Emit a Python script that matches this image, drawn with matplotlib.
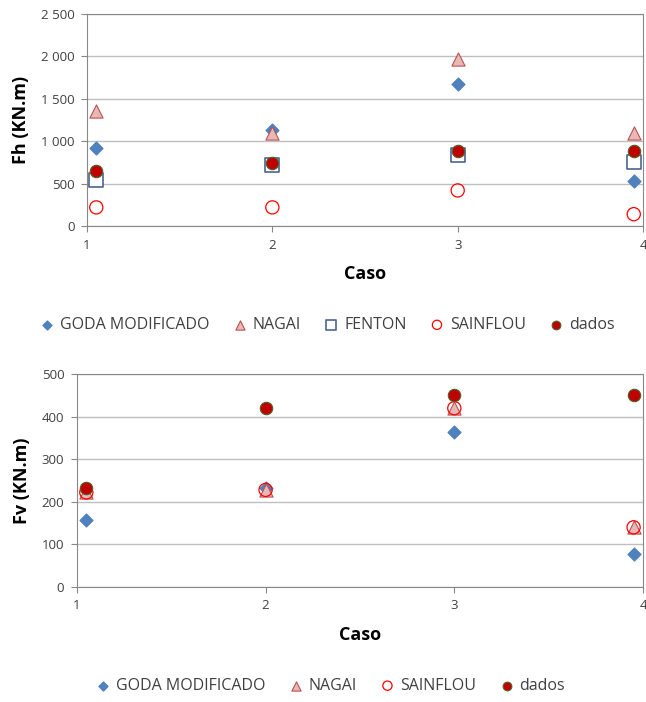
import matplotlib
matplotlib.use("Agg")
import matplotlib.pyplot as plt
from matplotlib.ticker import FuncFormatter

plt.rcParams['font.family'] = ['Open Sans', 'DejaVu Sans']

# posições dos casos no eixo x
caso = [1.05, 2, 3, 3.95]

# Fh (KN.m)
fh_goda = [920, 1130, 1680, 530]
fh_nagai = [1360, 1100, 1970, 1100]
fh_fenton = [540, 720, 840, 750]
fh_sainflou = [220, 220, 420, 140]
fh_dados = [650, 740, 890, 890]

# Fv (KN.m)
fv_goda = [158, 232, 364, 78]
fv_nagai = [222, 228, 420, 140]
fv_sainflou = [222, 228, 420, 140]
fv_dados = [232, 420, 452, 452]

estilos = {
    'GODA MODIFICADO': dict(marker='D', s=42, c='#4F81BD', edgecolors='#4F81BD'),
    'NAGAI': dict(marker='^', s=90, c='#E6B9B8', edgecolors='#C0504D', linewidths=0.8),
    'FENTON': dict(marker='s', s=90, c='white', edgecolors='#4A6590', linewidths=1.2),
    'SAINFLOU': dict(marker='o', s=90, c='none', edgecolors='#FF0000', linewidths=0.9),
    'dados': dict(marker='o', s=80, c='#C00000', edgecolors='#4F6228', linewidths=0.8),
}

def sep_milhar(v, pos):
    return f"{int(v):,}".replace(',', ' ')

def estilo_eixo(ax, ymax, ystep):
    ax.set_xlim(1, 4)
    ax.set_xticks([1, 2, 3, 4])
    ax.set_ylim(0, ymax)
    ax.set_yticks(range(0, ymax + 1, ystep))
    ax.grid(axis='y', color='#BFBFBF', linewidth=1)
    ax.set_axisbelow(True)
    for sp in ax.spines.values():
        sp.set_color('#888888')
    ax.tick_params(colors='#888888', labelcolor='#404040', labelsize=9.5, length=4, pad=5)
    ax.set_xlabel('Caso', fontsize=13, fontweight='bold', labelpad=10)

fig = plt.figure(figsize=(6.46, 7.02), dpi=100)

leg_kw = dict(loc='center', frameon=False, fontsize=11.5, handletextpad=-0.2,
              columnspacing=0.9, markerscale=0.7, labelcolor='#404040')

ax1 = fig.add_axes([0.1347, 0.678, 0.8607, 0.302])
series1 = [('GODA MODIFICADO', fh_goda), ('NAGAI', fh_nagai), ('FENTON', fh_fenton),
           ('SAINFLOU', fh_sainflou), ('dados', fh_dados)]
for nome, vals in series1:
    ax1.scatter(caso, vals, label=nome, zorder=3, **estilos[nome])
estilo_eixo(ax1, 2500, 500)
ax1.yaxis.set_major_formatter(FuncFormatter(sep_milhar))
ax1.set_ylabel('Fh (KN.m)', fontsize=13, fontweight='bold', labelpad=8)
fig.legend(*ax1.get_legend_handles_labels(), bbox_to_anchor=(0.5, 0.537), ncol=5, **leg_kw)

ax2 = fig.add_axes([0.119, 0.164, 0.8764, 0.303])
series2 = [('GODA MODIFICADO', fv_goda), ('NAGAI', fv_nagai),
           ('SAINFLOU', fv_sainflou), ('dados', fv_dados)]
for nome, vals in series2:
    ax2.scatter(caso, vals, label=nome, zorder=3, **estilos[nome])
estilo_eixo(ax2, 500, 100)
ax2.set_ylabel('Fv (KN.m)', fontsize=13, fontweight='bold', labelpad=8)
fig.legend(*ax2.get_legend_handles_labels(), bbox_to_anchor=(0.505, 0.023), ncol=4, **leg_kw)

fig.savefig('out.png', dpi=100)
